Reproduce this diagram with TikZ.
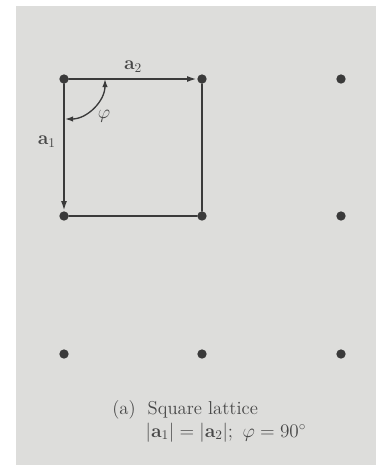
\documentclass[tikz,border=0pt]{standalone}
\usepackage{amsmath}
\usepackage{xcolor}
\usetikzlibrary{arrows.meta,calc,positioning}
\definecolor{PaperGray}{HTML}{DDDDDB}
\definecolor{InkGray}{HTML}{3A3A3A}
\definecolor{TextGray}{HTML}{474747}

\tikzset{
  latpt/.style={circle, fill=InkGray, inner sep=0pt, minimum size=7pt},
  basisvec/.style={-{Latex[length=7.5pt,width=4.5pt]}, InkGray, line width=1.8pt},
  celledge/.style={InkGray, line width=1.1pt},
  lbl/.style={text=TextGray, font=\fontsize{14}{17}\selectfont},
}

\begin{document}
\begin{tikzpicture}[x=0.75pt,y=-0.75pt, line cap=round, line join=round]

% paper
\fill[white] (0,0) rectangle (376,465);
\fill[PaperGray] (16,6) rectangle (376,465);
\useasboundingbox (0,0) rectangle (376,465);

% lattice points
\foreach \i/\y in {0/79,1/216,2/354}{
  \foreach \j/\x in {0/64,1/202,2/341}{
    \node[latpt] (p\i\j) at (\x,\y) {};
  }
}

% unit cell
\draw[celledge] (p01) -- (p11);
\draw[celledge] (p10) -- (p11);

% basis vectors
\draw[basisvec] (p00) -- (p01) node[lbl, midway, above=1pt] (a2lbl) {$\mathbf{a}_2$};
\draw[basisvec] (p00) -- (p10) node[lbl, midway, left=2pt, yshift=4pt] (a1lbl) {$\mathbf{a}_1$};

% angle between a1 and a2
\draw[{Latex[length=6pt,width=4pt]}-{Latex[length=6pt,width=4pt]}, InkGray, line width=1.0pt]
  ($(p00)+(41,0)$) arc[start angle=0, end angle=90, radius=40];
\node[lbl] (philbl) at ($(p00)+(40,37)$) {$\varphi$};

% caption
\node[lbl, anchor=base west] (capline1) at (143,414) {Square lattice};
\node[lbl, anchor=base east] (captag) at ([xshift=-2pt]capline1.base west) {(a)};
\node[lbl, anchor=base west] (capline2) at (141,437)
  {$|\mathbf{a}_1| = |\mathbf{a}_2|;\ \varphi = 90^\circ$};

\end{tikzpicture}
\end{document}
